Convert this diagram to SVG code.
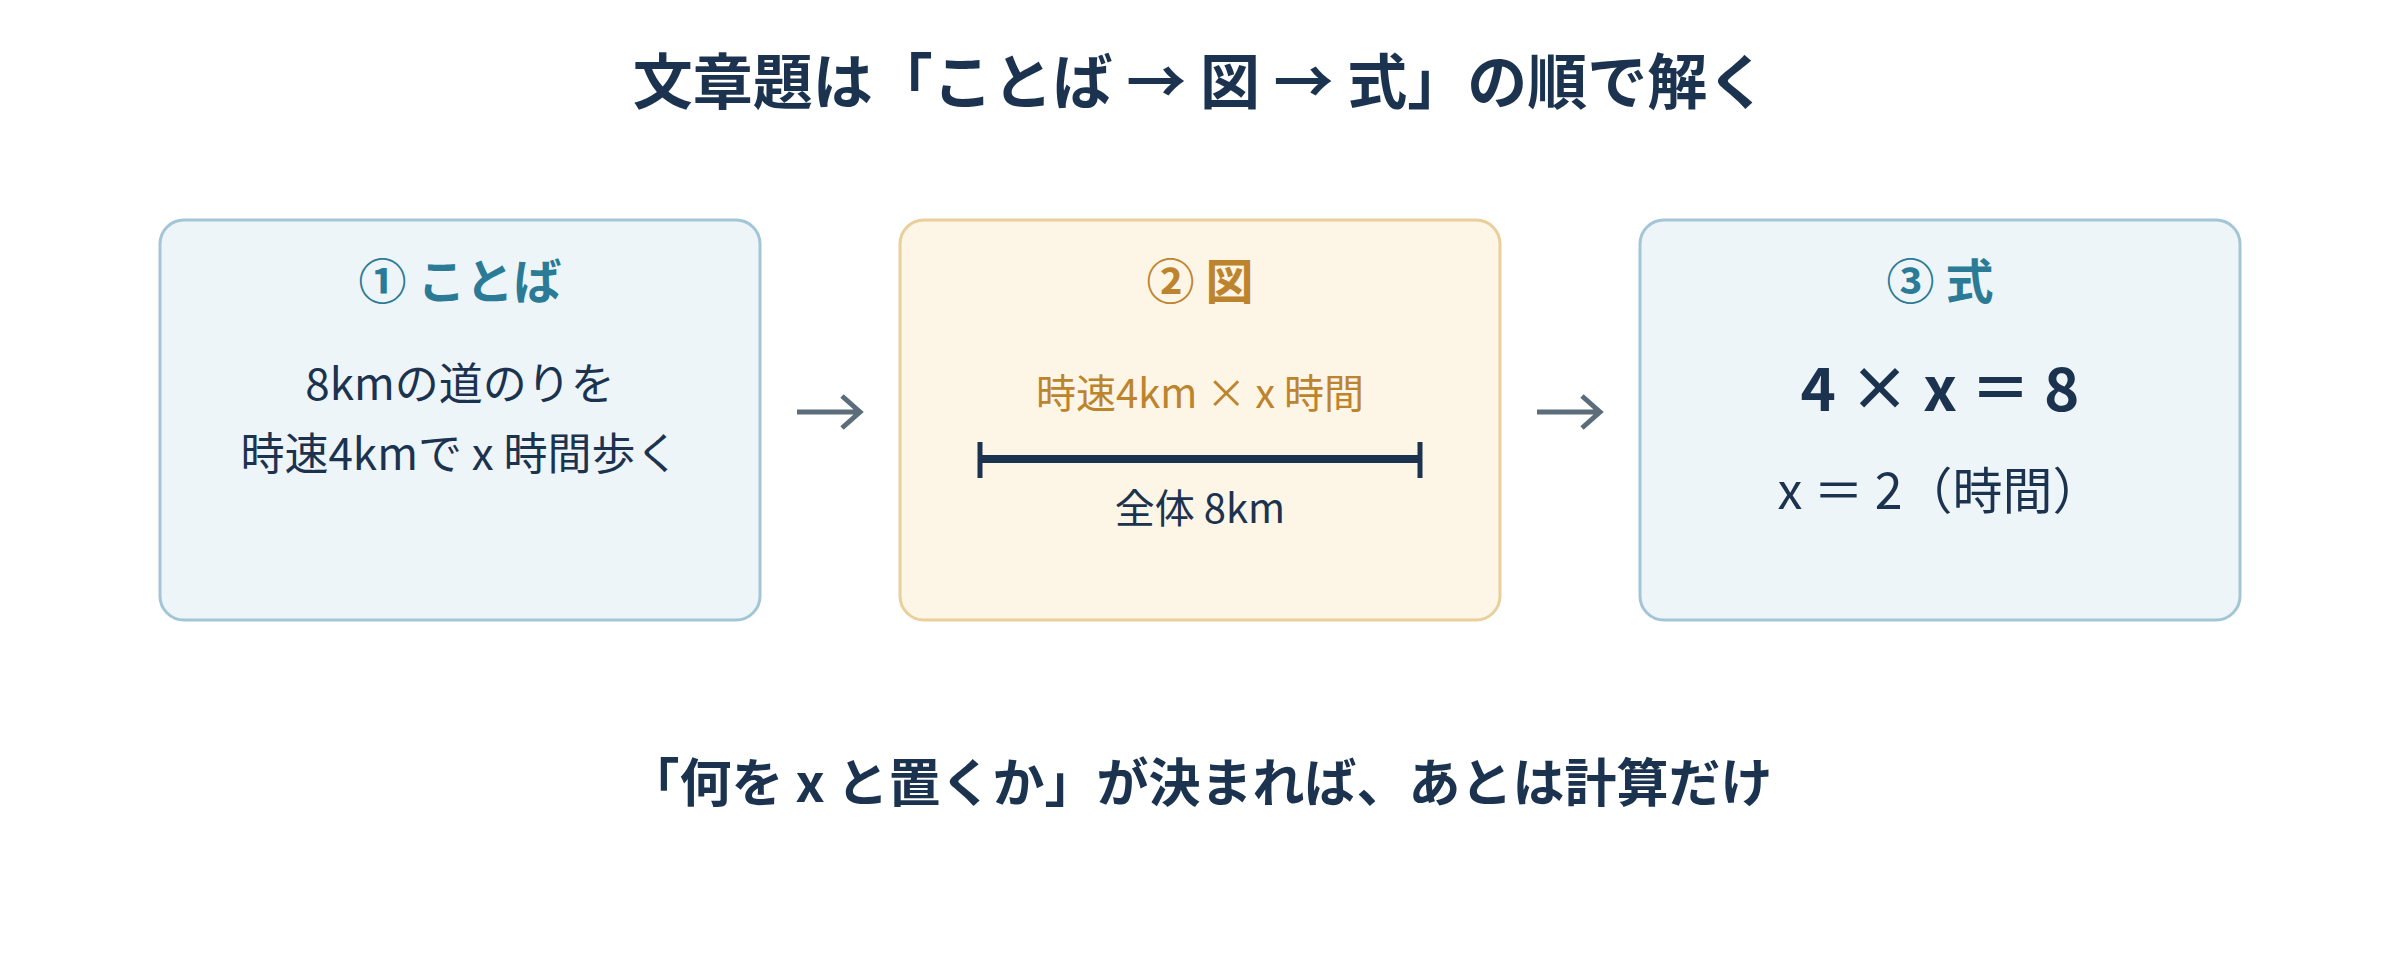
<svg xmlns="http://www.w3.org/2000/svg" width="2400" height="960" viewBox="0 0 2400 960">
<defs>
<style>
text { font-family: "Noto Sans CJK JP", "Noto Sans", sans-serif; text-anchor: middle; }
.title { font-size: 60px; font-weight: 700; fill: #1c3350; }
.head-blue { font-size: 48px; font-weight: 700; fill: #2b7b96; }
.head-gold { font-size: 48px; font-weight: 700; fill: #bd842e; }
.body { font-size: 44px; fill: #1c3350; }
.small { font-size: 40px; fill: #1c3350; }
.gold { font-size: 40px; fill: #bd842e; }
.eq { font-size: 60px; font-weight: 700; fill: #1c3350; }
.ans { font-size: 50px; fill: #1c3350; }
.foot { font-size: 52px; font-weight: 700; fill: #1c3350; }
.box-blue { fill: #eef5f9; stroke: #a3c6d6; stroke-width: 3; }
.box-gold { fill: #fdf5e6; stroke: #e9d09b; stroke-width: 3; }
.conn { fill: none; stroke: #5b6c7b; stroke-width: 5; stroke-linecap: butt; stroke-linejoin: miter; }
</style>
</defs>
<rect width="2400" height="960" fill="#ffffff"/>
<text id="title" class="title" x="1200" y="104">文章題は「ことば → 図 → 式」の順で解く</text>
<g id="node-kotoba">
<rect class="box-blue" x="160" y="220" width="600" height="400" rx="24"/>
<text class="head-blue" x="460" y="299">① ことば</text>
<text class="body" x="460" y="400">8kmの道のりを</text>
<text class="body" x="460" y="470">時速4kmで x 時間歩く</text>
</g>
<g id="node-zu">
<rect class="box-gold" x="900" y="220" width="600" height="400" rx="24"/>
<text class="head-gold" x="1200" y="299">② 図</text>
<text class="gold" x="1200" y="408">時速4km × x 時間</text>
<line x1="980" y1="459" x2="1420" y2="459" stroke="#1c3350" stroke-width="8"/>
<line x1="980" y1="442" x2="980" y2="478" stroke="#1c3350" stroke-width="5"/>
<line x1="1420" y1="442" x2="1420" y2="478" stroke="#1c3350" stroke-width="5"/>
<text class="small" x="1200" y="523">全体 8km</text>
</g>
<g id="node-shiki">
<rect class="box-blue" x="1640" y="220" width="600" height="400" rx="24"/>
<text class="head-blue" x="1940" y="299">③ 式</text>
<text class="eq" x="1940" y="411">4 × x ＝ 8</text>
<text class="ans" x="1940" y="509">x ＝ 2（時間）</text>
</g>
<g id="connectors">
<path class="conn" d="M797 412 H859 M842 396 L860 412 L842 428"/>
<path class="conn" d="M1537 412 H1599 M1582 396 L1600 412 L1582 428"/>
</g>
<text id="footer" class="foot" x="1200" y="802">「何を x と置くか」が決まれば、あとは計算だけ</text>
</svg>
